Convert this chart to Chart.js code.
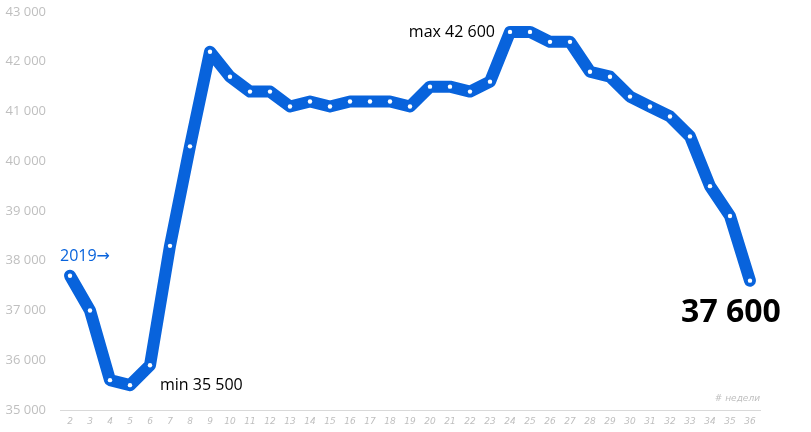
<!DOCTYPE html>
<html>
<head>
<meta charset="utf-8">
<script src="https://cdn.jsdelivr.net/npm/chart.js@4.4.0/dist/chart.umd.min.js"></script>
<style>
  html, body { margin: 0; padding: 0; background: #fff; }
  #wrap { width: 811px; height: 432px; position: relative; }
</style>
</head>
<body>
<div id="wrap"><canvas id="weeksChart"></canvas></div>
<script>
// номера недель
const weeks = [2, 3, 4, 5, 6, 7, 8, 9, 10, 11, 12, 13, 14, 15, 16, 17, 18, 19,
  20, 21, 22, 23, 24, 25, 26, 27, 28, 29, 30, 31, 32, 33, 34, 35, 36];
const values2019 = [37700, 37000, 35600, 35500, 35900, 38300, 40300, 42200, 41700, 41400,
  41400, 41100, 41200, 41100, 41200, 41200, 41200, 41100, 41500, 41500,
  41400, 41600, 42600, 42600, 42400, 42400, 41800, 41700, 41300, 41100,
  40900, 40500, 39500, 38900, 37600];
const yTicks = [35000, 36000, 37000, 38000, 39000, 40000, 41000, 42000, 43000];

const blue = "#0863dc";
const fmt = (v) => String(v).replace(/\B(?=(\d{3})+(?!\d))/g, " ");

const minVal = Math.min(...values2019);
const maxVal = Math.max(...values2019);
const minIdx = values2019.indexOf(minVal);
const maxIdx = values2019.indexOf(maxVal);
const lastIdx = values2019.length - 1;

// подписи поверх графика
const labelsPlugin = {
  id: "labels",
  afterDatasetsDraw(chart) {
    const { ctx, scales: { x, y }, chartArea } = chart;
    ctx.save();
    ctx.textBaseline = "middle";

    ctx.fillStyle = blue;
    ctx.font = "16px 'Open Sans'";
    ctx.textAlign = "left";
    const yearX = x.getPixelForValue(0) - 10;
    const yearY = y.getPixelForValue(values2019[0]) - 19;
    ctx.fillText("2019", yearX, yearY);
    const w = ctx.measureText("2019").width;
    ctx.font = "16px 'DejaVu Sans'";
    ctx.fillText("\u2192", yearX + w, yearY);

    ctx.fillStyle = "#000";
    ctx.font = "16px 'Open Sans'";
    ctx.fillText("min " + fmt(minVal), x.getPixelForValue(minIdx) + 30, y.getPixelForValue(minVal));
    ctx.textAlign = "right";
    ctx.fillText("max " + fmt(maxVal), x.getPixelForValue(maxIdx) - 15, y.getPixelForValue(maxVal) + 1);

    ctx.font = "bold 32px 'Open Sans'";
    ctx.textAlign = "center";
    ctx.fillText(fmt(values2019[lastIdx]), x.getPixelForValue(lastIdx) - 19, y.getPixelForValue(values2019[lastIdx]) + 32);

    ctx.fillStyle = "#bfbfbf";
    ctx.font = "italic 9px 'DejaVu Sans'";
    ctx.textAlign = "right";
    ctx.fillText("# недели", chartArea.right, chartArea.bottom - 11);
    ctx.restore();
  },
};

const ctx = document.getElementById("weeksChart").getContext("2d");
const weeksChart = new Chart(ctx, {
  type: "line",
  data: {
    labels: weeks,
    datasets: [
      {
        label: "2019",
        data: values2019,
        borderColor: blue,
        borderWidth: 12,
        borderJoinStyle: "round",
        borderCapStyle: "round",
        tension: 0,
        pointRadius: 2.2,
        pointBackgroundColor: "#fff",
        pointBorderWidth: 0,
      },
    ],
  },
  options: {
    responsive: true,
    maintainAspectRatio: false,
    animation: false,
    layout: {
      padding: { top: 12, right: 51, bottom: 0, left: 0 },
    },
    plugins: {
      legend: { display: false },
      tooltip: { enabled: false },
    },
    scales: {
      x: {
        offset: true,
        grid: { display: false, drawTicks: false },
        border: { display: true, color: "#d9d9d9", width: 1 },
        ticks: {
          color: "#bfbfbf",
          font: { family: "DejaVu Sans", size: 9, style: "italic" },
          padding: 6,
          maxRotation: 0,
          autoSkip: false,
        },
        afterFit: (scale) => {
          scale.height = 22;
          scale.paddingLeft = 0;
          scale.paddingRight = 0;
        },
      },
      y: {
        min: 35000,
        max: 43000,
        afterBuildTicks: (scale) => { scale.ticks = yTicks.map((v) => ({ value: v })); },
        grid: { display: false, drawTicks: false },
        border: { display: false },
        ticks: {
          color: "#bfbfbf",
          font: { family: "Open Sans", size: 13 },
          padding: 14,
          callback: (v) => fmt(v),
        },
        afterFit: (scale) => {
          scale.width = 60;
          scale.paddingTop = 0;
          scale.paddingBottom = 0;
        },
      },
    },
  },
  plugins: [labelsPlugin],
});
</script>
</body>
</html>
